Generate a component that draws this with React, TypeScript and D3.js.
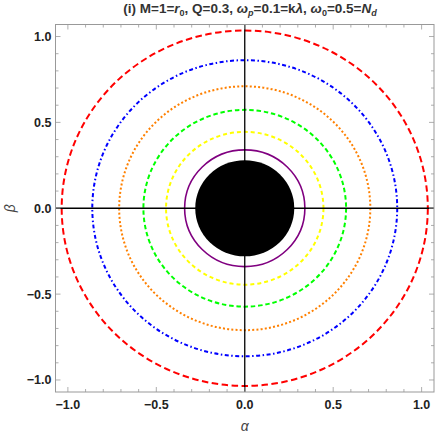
import React from "react";
import * as d3 from "d3";

const W = 436;
const H = 436;

// radii of the curves
const curveNames = ["red", "blue", "orange", "green", "yellow", "purple"];
const curveRadii = [1.035, 0.862, 0.71, 0.573, 0.445, 0.34];
const curveColors = ["#ff0000", "#0000ff", "#ff8000", "#00ff00", "#ffff00", "#800080"];
const curveDash = ["6.5,3.5", "4,2.5,1.5,2.5", "2,2.2", "4.5,2.8", "4,3", "none"];
const shadowRadius = 0.28;

const majorTicks = [-1.0, -0.5, 0.0, 0.5, 1.0];
const minorTicks = [-1.0, -0.9, -0.8, -0.7, -0.6, -0.5, -0.4, -0.3, -0.2, -0.1, 0, 0.1, 0.2, 0.3, 0.4, 0.5, 0.6, 0.7, 0.8, 0.9, 1.0];

const margin = { left: 55.5, right: 2, top: 24.5, bottom: 44 };

export default function App() {
  const x = d3.scaleLinear().domain([-1.07, 1.07]).range([margin.left, W - margin.right]);
  const y = d3.scaleLinear().domain([-1.07, 1.07]).range([H - margin.bottom, margin.top]);
  const x0 = margin.left, x1 = W - margin.right, y0 = margin.top, y1 = H - margin.bottom;
  const fmt = (v: number) => (v < 0 ? "\u2212" + Math.abs(v).toFixed(1) : v.toFixed(1));
  const frameColor = "#999";
  const font = "'Liberation Sans', Arial, sans-serif";

  return (
    <svg width={W} height={H} style={{ position: "absolute", left: 0, top: 0 }} fontFamily={font}>
      <rect x={0} y={0} width={W} height={H} fill="white" />
      {/* title */}
      <text x={250} y={13} textAnchor="middle" fontSize={13.5} fontWeight="bold" fill="#333">
        <tspan>(i) M=1=</tspan>
        <tspan fontStyle="italic">r</tspan>
        <tspan fontSize={9} dy={2.5}>0</tspan>
        <tspan dy={-2.5}>, Q=0.3, </tspan>
        <tspan fontStyle="italic">ω</tspan>
        <tspan fontSize={9} dy={2.5} fontStyle="italic">p</tspan>
        <tspan dy={-2.5}>=0.1=k</tspan>
        <tspan fontStyle="italic">λ</tspan>
        <tspan>, </tspan>
        <tspan fontStyle="italic">ω</tspan>
        <tspan fontSize={9} dy={2.5}>0</tspan>
        <tspan dy={-2.5}>=0.5=</tspan>
        <tspan fontStyle="italic">N</tspan>
        <tspan fontSize={9} dy={2.5} fontStyle="italic">d</tspan>
      </text>

      <defs>
        <clipPath id="plotclip">
          <rect x={x0} y={y0} width={x1 - x0} height={y1 - y0} />
        </clipPath>
      </defs>

      <g clipPath="url(#plotclip)">
        {/* curves */}
        {curveRadii.map((r, i) => (
          <ellipse
            key={curveNames[i]}
            cx={x(0)}
            cy={y(0)}
            rx={x(r) - x(0)}
            ry={y(0) - y(r)}
            fill="none"
            stroke={curveColors[i]}
            strokeWidth={i === 5 ? 1.6 : 2}
            strokeDasharray={curveDash[i]}
          />
        ))}
        {/* shadow */}
        <ellipse cx={x(0)} cy={y(0)} rx={x(shadowRadius) - x(0)} ry={y(0) - y(shadowRadius)} fill="black" />
        {/* axes */}
        <line x1={x0} x2={x1} y1={y(0)} y2={y(0)} stroke="black" strokeWidth={1.3} />
        <line x1={x(0)} x2={x(0)} y1={y0} y2={y1} stroke="black" strokeWidth={1.3} />
      </g>

      {/* frame */}
      <rect x={x0} y={y0} width={x1 - x0} height={y1 - y0} fill="none" stroke={frameColor} strokeWidth={1} />

      {/* ticks */}
      {minorTicks.map((t) => {
        const major = majorTicks.some((m) => Math.abs(m - t) < 1e-9);
        const len = major ? 5 : 3;
        return (
          <g key={"t" + t} stroke={frameColor} strokeWidth={0.8}>
            <line x1={x(t)} x2={x(t)} y1={y1} y2={y1 - len} />
            <line x1={x(t)} x2={x(t)} y1={y0} y2={y0 + len} />
            <line x1={x0} x2={x0 + len} y1={y(t)} y2={y(t)} />
            <line x1={x1} x2={x1 - len} y1={y(t)} y2={y(t)} />
          </g>
        );
      })}

      {/* tick labels */}
      {majorTicks.map((t) => (
        <text key={"xl" + t} x={x(t)} y={y1 + 17} textAnchor="middle" fontSize={12.5} fontWeight="bold" fill="#222">
          {fmt(t)}
        </text>
      ))}
      {majorTicks.map((t) => (
        <text key={"yl" + t} x={x0 - 4} y={y(t) + 4.5} textAnchor="end" fontSize={12.5} fontWeight="bold" fill="#222">
          {fmt(t)}
        </text>
      ))}

      {/* axis labels */}
      <text x={(x0 + x1) / 2} y={431} textAnchor="middle" fontSize={14} fontStyle="italic" fill="#444">
        α
      </text>
      <text
        transform={`translate(15,${(y0 + y1) / 2}) rotate(-90)`}
        textAnchor="middle"
        fontSize={14}
        fontStyle="italic"
        fill="#444"
      >
        β
      </text>
    </svg>
  );
}
